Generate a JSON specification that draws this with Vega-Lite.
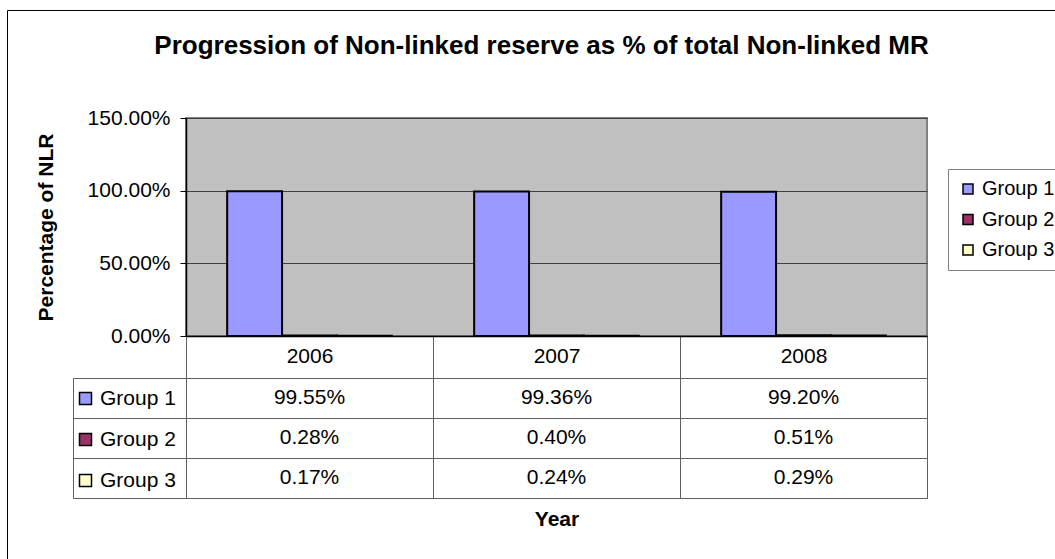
{
  "$schema": "https://vega.github.io/schema/vega-lite/v6.json",
  "background": "white",
  "padding": {"left": 6, "top": 9, "right": 0, "bottom": 0},
  "config": {"font": "Liberation Sans", "view": {"strokeWidth": 1}},
  "data": {"values": [
    {"year": "2006", "group": "Group 1", "value": 0.9955},
    {"year": "2006", "group": "Group 2", "value": 0.0028},
    {"year": "2006", "group": "Group 3", "value": 0.0017},
    {"year": "2007", "group": "Group 1", "value": 0.9936},
    {"year": "2007", "group": "Group 2", "value": 0.0040},
    {"year": "2007", "group": "Group 3", "value": 0.0024},
    {"year": "2008", "group": "Group 1", "value": 0.9920},
    {"year": "2008", "group": "Group 2", "value": 0.0051},
    {"year": "2008", "group": "Group 3", "value": 0.0029}
  ]},
  "spacing": 42,
  "bounds": "flush",
  "resolve": {"scale": {"x": "independent", "y": "independent", "color": "independent", "xOffset": "independent"}, "legend": {"color": "independent"}},
  "vconcat": [
    {
      "width": 741,
      "height": 218,
      "title": {"text": "Progression of Non-linked reserve as % of total Non-linked MR", "fontSize": 26, "fontWeight": "bold", "color": "black", "anchor": "middle", "frame": "group", "offset": 48, "dx": -15},
      "view": {"fill": "#C0C0C0", "stroke": "#808080", "strokeWidth": 2},
      "mark": {"type": "bar", "stroke": "black", "strokeWidth": 2},
      "encoding": {
        "x": {"field": "year", "type": "ordinal", "scale": {"paddingInner": 0, "paddingOuter": 0},
          "axis": {"title": null, "labelAngle": 0, "labelFontSize": 21, "labelColor": "black", "tickBand": "extent", "tickSize": 42, "tickColor": "#606060", "tickWidth": 1, "labelPadding": -33, "domainColor": "black", "domainWidth": 1.5, "grid": false}},
        "xOffset": {"field": "group", "type": "nominal", "scale": {"paddingOuter": 0.75, "paddingInner": 0}},
        "y": {"field": "value", "type": "quantitative", "scale": {"domain": [0, 1.5], "nice": false},
          "axis": {"values": [0, 0.5, 1, 1.5], "format": ".2%", "title": "Percentage of NLR", "titleFontSize": 21, "titleFontWeight": "bold", "titleColor": "black", "titlePadding": 31, "labelFontSize": 21, "labelColor": "black", "tickSize": 6, "labelPadding": 10, "tickColor": "black", "domainColor": "black", "domainWidth": 1.5, "grid": true, "gridColor": "#404040", "gridWidth": 1}},
        "color": {"field": "group", "type": "nominal", "scale": {"domain": ["Group 1", "Group 2", "Group 3"], "range": ["#9999FF", "#993366", "#FFFFCC"]},
          "legend": {"title": null, "orient": "none", "legendX": 762, "legendY": 51, "strokeColor": "#808080", "fillColor": "white", "padding": 10, "symbolType": "square", "symbolSize": 100, "symbolStrokeColor": "black", "symbolStrokeWidth": 1.5, "symbolOpacity": 1, "labelFontSize": 20, "labelColor": "black", "labelOffset": 4, "rowPadding": 10.5}}
      }
    },
    {
      "width": 741,
      "height": 120,
      "view": {"fill": "white", "stroke": "#606060", "strokeWidth": 1},
      "encoding": {
        "x": {"field": "year", "type": "ordinal", "scale": {"paddingInner": 0, "paddingOuter": 0},
          "axis": {"title": "Year", "titleFontSize": 21, "titleFontWeight": "bold", "titleColor": "black", "titlePadding": 10, "labels": false, "ticks": false, "domain": false, "grid": true, "tickBand": "extent", "gridColor": "#606060", "gridWidth": 1}},
        "y": {"field": "group", "type": "nominal", "scale": {"domain": ["Group 1", "Group 2", "Group 3"], "paddingInner": 0, "paddingOuter": 0},
          "axis": {"title": null, "labels": false, "offset": 113, "tickSize": -113, "tickBand": "extent", "tickColor": "#606060", "domainColor": "#606060", "domainWidth": 1, "grid": true, "gridColor": "#606060", "gridWidth": 1}}
      },
      "layer": [
        {"mark": {"type": "text", "fontSize": 21, "color": "black"},
          "encoding": {"text": {"field": "value", "type": "quantitative", "format": ".2%"}}},
        {"mark": {"type": "square", "opacity": 0},
          "encoding": {"color": {"field": "group", "type": "nominal", "scale": {"domain": ["Group 1", "Group 2", "Group 3"], "range": ["#9999FF", "#993366", "#FFFFCC"]},
            "legend": {"title": null, "orient": "none", "legendX": -111, "legendY": 10, "padding": 0, "symbolType": "square", "symbolSize": 144, "symbolStrokeColor": "black", "symbolStrokeWidth": 1.5, "symbolOpacity": 1, "labelFontSize": 21, "labelColor": "black", "labelOffset": 4, "rowPadding": 19}}}},
        {"mark": {"type": "point", "opacity": 0},
          "encoding": {
            "shape": {"datum": "frame", "type": "nominal",
              "legend": {"title": null, "orient": "none", "legendX": -179, "legendY": -108, "strokeColor": "#000000", "padding": 280, "symbolOffset": 540, "symbolOpacity": 0, "symbolStrokeWidth": 0, "symbolSize": 4, "labelExpr": "''", "labelOpacity": 0}}
          }
        }
      ]
    }
  ]
}
